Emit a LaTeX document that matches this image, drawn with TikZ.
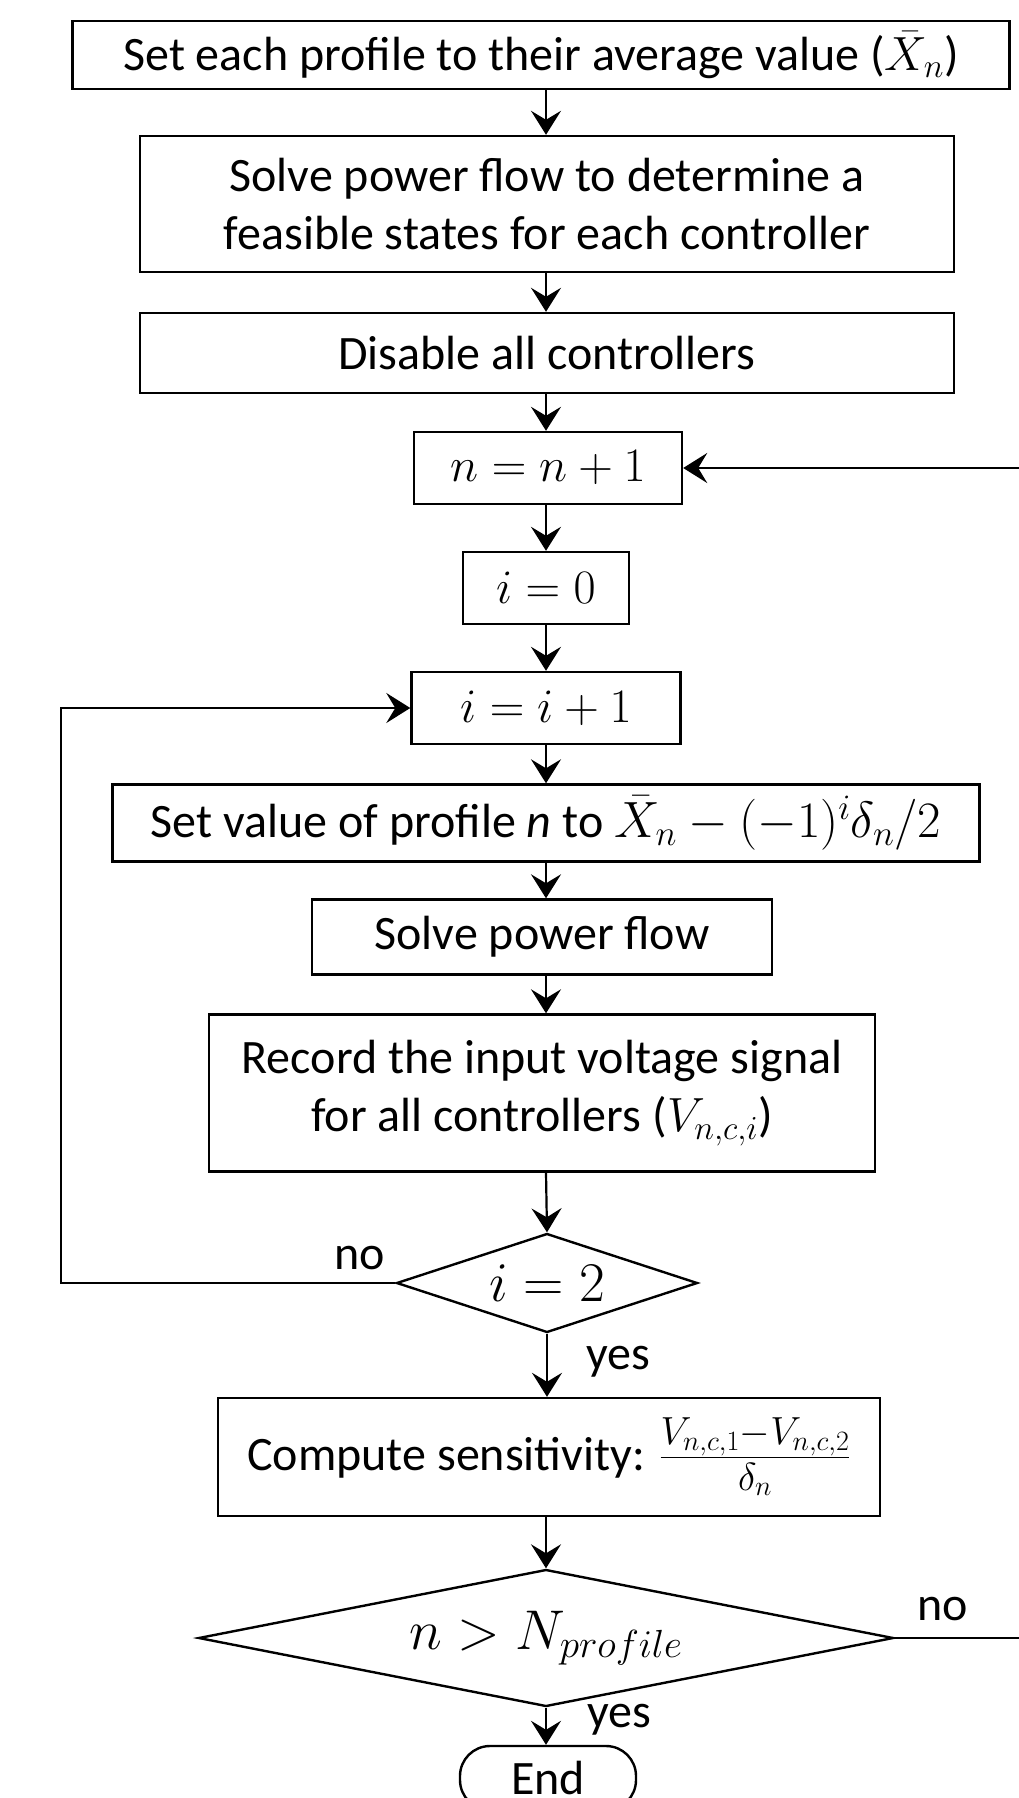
\RequirePackage{fix-cm}
\documentclass[tikz,border=0pt]{standalone}
\usepackage{fontspec}
\setmainfont{Carlito}
\usetikzlibrary{arrows.meta,shapes.geometric}
\begin{document}
\begin{tikzpicture}[x=1pt,y=-1pt,
  every node/.style={font=\fontsize{48}{58}\selectfont},
  proc/.style={draw, line width=2.4pt, rectangle, inner sep=0pt, align=center},
  dec/.style={draw, line width=2.4pt, diamond, inner sep=0pt, font=\fontsize{56}{66}\selectfont},
  term/.style={draw, line width=2.4pt, rectangle, rounded corners=30pt, inner sep=0pt},
  arr/.style={line width=2.2pt, -{Stealth[length=24pt,width=30pt,inset=9pt]}},
  lab/.style={inner sep=0pt}]
\useasboundingbox (0,0) rectangle (1019,1798);
\coordinate (col) at (546,0);

\node[proc, minimum width=937pt, minimum height=68pt] (b1) at (541,55)
  {Set each profile to their average value ($\bar{X}_n$)};
\node[proc, minimum width=814pt, minimum height=136pt] (b2) at (547,204)
  {Solve power flow to determine a\\feasible states for each controller};
\node[proc, minimum width=814pt, minimum height=80pt] (b3) at (547,353)
  {Disable all controllers};
\node[proc, minimum width=268pt, minimum height=72pt] (b4) at (548,468)
  {$n=n+1$};
\node[proc, minimum width=166pt, minimum height=72pt] (b5) at (546,588)
  {$i=0$};
\node[proc, minimum width=269pt, minimum height=72pt] (b6) at (546,708)
  {$i=i+1$};
\node[proc, minimum width=867pt, minimum height=77pt] (b7) at (546,823)
  {Set value of profile \textit{n} to {\fontsize{51}{60}\selectfont$\bar{X}_n-(-1)^i\delta_n/2$}};
\node[proc, minimum width=460pt, minimum height=75pt] (b8) at (542,937)
  {Solve power flow};
\node[proc, minimum width=666pt, minimum height=157pt] (b9) at (542,1093)
  {Record the input voltage signal\\for all controllers ($V_{n,c,i}$)};
\node[dec, minimum width=301pt, minimum height=99pt, aspect=3.04] (d1) at (547,1283)
  {$i=2$};
\node[proc, minimum width=662pt, minimum height=118pt] (b10) at (549,1457)
  {Compute sensitivity: {\fontsize{56}{64}\selectfont$\frac{V_{n,c,1}-V_{n,c,2}}{\delta_n}$}};
\node[dec, minimum width=695pt, minimum height=137pt, aspect=5.07] (d2) at (546,1638)
  {$n>N_{profile}$};
\node[term, minimum width=176pt, minimum height=64pt] (end) at (548,1778)
  {End};

\draw[arr] (b1.south -| col) -- (b2.north -| col);
\draw[arr] (b2.south -| col) -- (b3.north -| col);
\draw[arr] (b3.south -| col) -- (b4.north -| col);
\draw[arr] (b4.south -| col) -- (b5.north -| col);
\draw[arr] (b5.south -| col) -- (b6.north -| col);
\draw[arr] (b6.south -| col) -- (b7.north -| col);
\draw[arr] (b7.south -| col) -- (b8.north -| col);
\draw[arr] (b8.south -| col) -- (b9.north -| col);
\draw[arr] (b9.south -| col) -- (d1.north);
\draw[arr] (d1.south) -- (b10.north -| d1.south);
\draw[arr] (b10.south -| col) -- (d2.north);
\draw[arr] (d2.south) -- (end.north -| d2.south);

\coordinate (lloop) at (61,0);
\coordinate (rloop) at (1040,0);
\draw[arr] (d1.west) -- (d1.west -| lloop) -- (b6.west -| lloop) -- (b6.west);
\draw[arr] (d2.east) -- (d2.east -| rloop) -- (b4.east -| rloop) -- (b4.east);

\node[lab] (no1) at (360,1258) {no};
\node[lab] (yes1) at (618,1362) {yes};
\node[lab] (no2) at (943,1609) {no};
\node[lab] (yes2) at (619,1720) {yes};
\end{tikzpicture}
\end{document}
